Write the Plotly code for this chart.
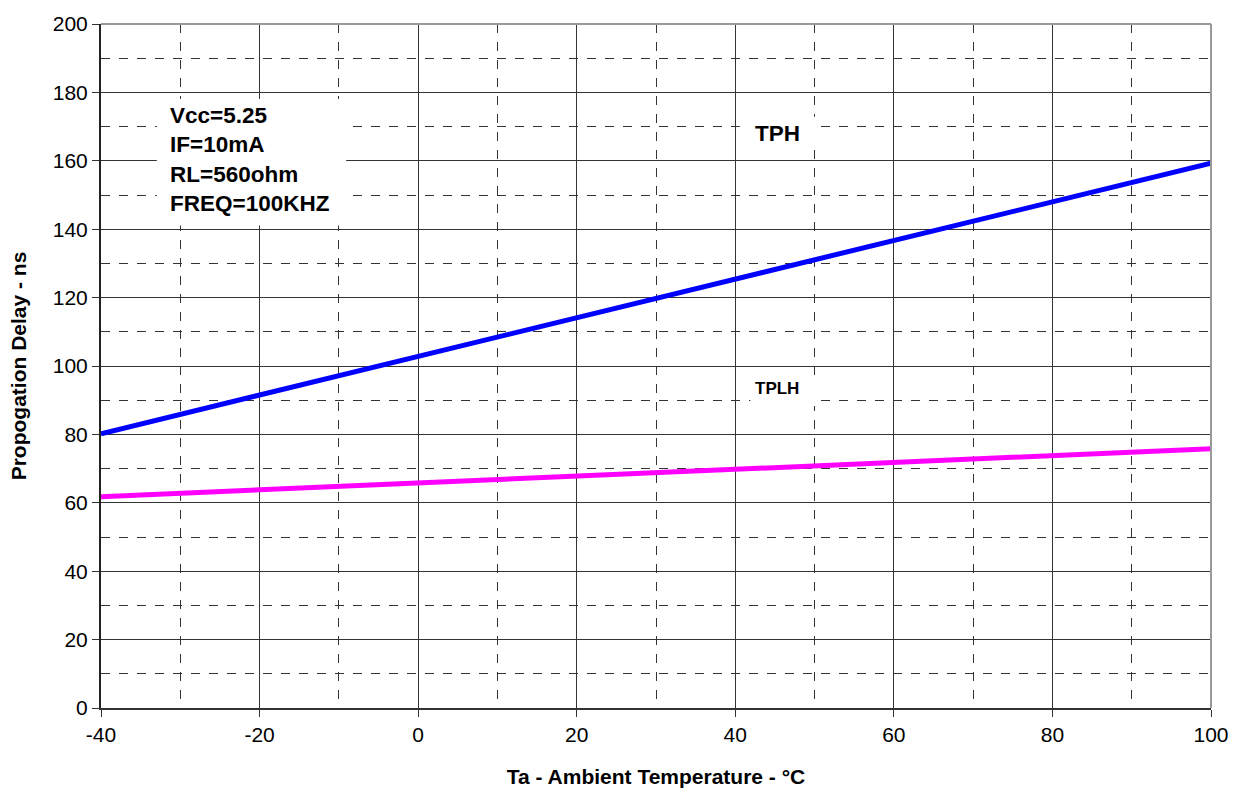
import plotly.graph_objects as go

temps = [-40, -20, 0, 20, 40, 60, 80, 100]
tph = [80.2, 91.5, 102.8, 114.1, 125.4, 136.7, 148.0, 159.3]
tplh = [61.8, 63.8, 65.8, 67.8, 69.7, 71.7, 73.7, 75.8]
x_ticks = [-40, -20, 0, 20, 40, 60, 80, 100]
x_labels = ["-40", "-20", "0", "20", "40", "60", "80", "100"]
y_ticks = [0, 20, 40, 60, 80, 100, 120, 140, 160, 180, 200]

FONT = "Arial, Liberation Sans, sans-serif"

fig = go.Figure()
fig.add_trace(go.Scatter(x=temps, y=tph, mode="lines",
                         line=dict(color="#0000FF", width=5), name="TPH", showlegend=False))
fig.add_trace(go.Scatter(x=temps, y=tplh, mode="lines",
                         line=dict(color="#FF00FF", width=5), name="TPLH", showlegend=False))

grid = "#333333"
fig.update_xaxes(range=[-40, 100], tickvals=x_ticks, ticktext=x_labels, ticks="outside", ticklen=7,
                 tickcolor="#333", showline=True, linecolor="#333", linewidth=2,
                 showgrid=True, gridcolor=grid, gridwidth=1, zeroline=False,
                 ticklabeloverflow="allow",
                 minor=dict(dtick=10, showgrid=True, gridcolor=grid, griddash="dash", gridwidth=1),
                 tickfont=dict(family=FONT, size=21, color="black"),
                 title=dict(text="<b>Ta - Ambient Temperature - °C</b>",
                            font=dict(family=FONT, size=21, color="black"), standoff=24))
fig.update_yaxes(range=[0, 200], tickvals=y_ticks, ticks="outside", ticklen=7,
                 tickcolor="#333", showline=True, linecolor="#222", linewidth=2,
                 showgrid=True, gridcolor=grid, gridwidth=1, zeroline=False,
                 ticklabeloverflow="allow",
                 minor=dict(dtick=10, showgrid=True, gridcolor=grid, griddash="dash", gridwidth=1),
                 tickfont=dict(family=FONT, size=21, color="black"),
                 title=dict(text="<b>Propogation Delay - ns</b>",
                            font=dict(family=FONT, size=21, color="black"), standoff=20))

# top / right grey border
fig.add_shape(type="line", xref="paper", yref="paper", x0=0, x1=1, y0=1, y1=1,
              line=dict(color="#999999", width=2), layer="above")
fig.add_shape(type="line", xref="paper", yref="paper", x0=1, x1=1, y0=0, y1=1,
              line=dict(color="#999999", width=2), layer="above")

# white label backgrounds
for (x0, x1, y0, y1) in [(-32.96, -9.08, 141.1, 178.1),
                         (40.56, 50.6, 163.3, 172.9),
                         (41.9, 50.8, 88.3, 97.3)]:
    fig.add_shape(type="rect", x0=x0, x1=x1, y0=y0, y1=y1, fillcolor="white",
                  line=dict(width=0), layer="above")

fig.add_annotation(x=-31.6, y=160.5, xanchor="left", yanchor="middle", showarrow=False,
                   align="left",
                   text="<b>Vcc=5.25<br>IF=10mA<br>RL=560ohm<br>FREQ=100KHZ</b>",
                   font=dict(family=FONT, size=22.5, color="black"))
fig.add_annotation(x=45.3, y=168.0, showarrow=False, text="<b>TPH</b>",
                   font=dict(family=FONT, size=22.5, color="black"))
fig.add_annotation(x=45.3, y=93.5, showarrow=False, text="<b>TPLH</b>",
                   font=dict(family=FONT, size=17, color="black"))

fig.update_layout(width=1241, height=797, margin=dict(l=101, r=26, t=16, b=88),
                  plot_bgcolor="white", paper_bgcolor="white", showlegend=False)

fig.write_html("out.html", config={"displayModeBar": False},
               post_script="document.body.style.margin='0px';document.body.style.overflow='hidden';")
